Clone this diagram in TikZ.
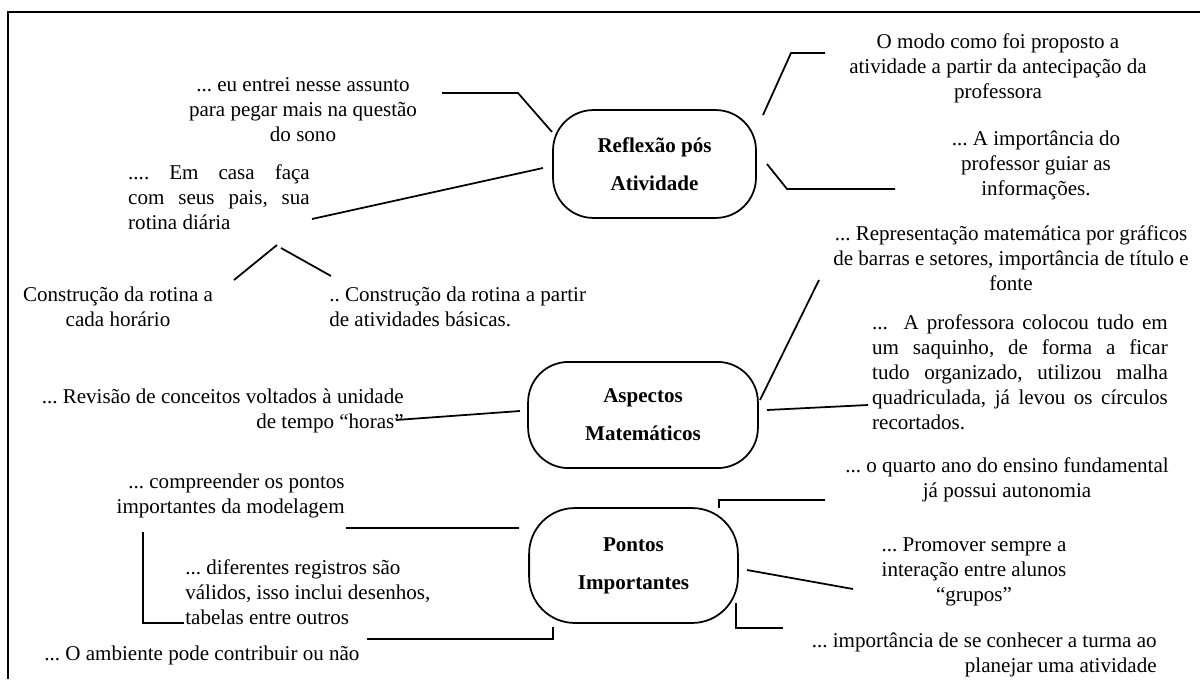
\documentclass[tikz,border=0pt]{standalone}
\usepackage{fontspec}
\setmainfont{Liberation Serif}
\begin{document}
\frenchspacing
\begin{tikzpicture}[x=0.57pt,y=-0.57pt,
		txt/.style={inner sep=0pt,font=\fontsize{12}{14.25}\selectfont\frenchspacing},
		topic/.style={draw,line width=1pt,rounded corners=23pt,inner sep=0pt,align=center,font=\fontsize{12}{21.5}\selectfont\bfseries},
		link/.style={line width=1pt}]
		\useasboundingbox (0,0) rectangle (1200,679);
		\draw[line width=1.5pt] (8,679) -- (8,12) -- (1200,12);
		\node[topic,minimum width=115.7pt,minimum height=61.5pt] (reflexao) at (654.5,164) {Reflexão pós\\Atividade};
		\node[topic,minimum width=131pt,minimum height=60.5pt] (aspectos) at (643,415) {Aspectos\\Matemáticos};
		\node[topic,rounded corners=26pt,minimum width=119pt,minimum height=65.5pt] (pontos) at (633.5,565.5) {Pontos\\Importantes};
		\node[txt,align=center] (sono) at (303,110) {... eu entrei nesse assunto\\para pegar mais na questão\\do sono};
		\node[txt,align=justify,text width=103.5pt] (casa) at (219,197) {.... Em casa faça\linebreak com seus pais, sua\linebreak rotina diária};
		\node[txt,align=center] (horario) at (118,307) {Construção da rotina a\\cada horário};
		\node[txt,align=left,anchor=west] (basicas) at (329,307) {.. Construção da rotina a partir\\de atividades básicas.};
		\node[txt,align=center] (modo) at (998,68) {O modo como foi proposto a\\atividade a partir da antecipação da\\professora};
		\node[txt,align=center] (guiar) at (1036,165) {... A importância do\\professor guiar as\\informações.};
		\node[txt,align=center] (graficos) at (1011,258) {... Representação matemática por gráficos\\de barras e setores, importância de título e\\fonte};
		\node[txt,align=justify,text width=168.5pt] (saquinho) at (1020,372) {...\ \ A professora colocou tudo em\linebreak um saquinho, de forma a ficar\linebreak tudo organizado, utilizou malha\linebreak quadriculada, já levou os círculos\linebreak recortados.};
		\node[txt,align=right,anchor=east] (horas) at (404,411) {... Revisão de conceitos voltados à unidade\\de tempo “horas”};
		\node[txt,align=center] (quarto) at (1007,480) {... o quarto ano do ensino fundamental\\já possui autonomia};
		\node[txt,align=right,anchor=east] (modelagem) at (345,496) {... compreender os pontos\\importantes da modelagem};
		\node[txt,align=left,anchor=west] (registros) at (185,592) {... diferentes registros são\\válidos, isso inclui desenhos,\\tabelas entre outros};
		\node[txt,anchor=west] (ambiente) at (44,655) {... O ambiente pode contribuir ou não};
		\node[txt,align=center] (grupos) at (974,572) {... Promover sempre a\\interação entre alunos\\“grupos”};
		\node[txt,align=right,anchor=east] (turma) at (1157,655) {... importância de se conhecer a turma ao\\planejar uma atividade};
		\coordinate (sonoA) at (442,93);
		\coordinate (sonoB) at (518,93);
		\coordinate (sonoC) at (552,132);
		\coordinate (casaA) at (312,219);
		\coordinate (casaB) at (543,168);
		\coordinate (tipL) at (234,280);
		\coordinate (topL) at (277,245);
		\coordinate (topR) at (281,248);
		\coordinate (tipR) at (331,276);
		\coordinate (modoA) at (763,115);
		\coordinate (modoB) at (791,53);
		\coordinate (modoC) at (825,53);
		\coordinate (guiarA) at (767,164);
		\coordinate (guiarB) at (787,189);
		\coordinate (guiarC) at (895,189);
		\coordinate (grafA) at (819,280);
		\coordinate (grafB) at (760,400);
		\coordinate (saqA) at (767,410);
		\coordinate (saqB) at (868,405);
		\coordinate (horasA) at (396,420);
		\coordinate (horasB) at (520,411);
		\coordinate (quartoA) at (719,508);
		\coordinate (quartoB) at (719,500);
		\coordinate (quartoC) at (825,500);
		\coordinate (gruposA) at (747,570);
		\coordinate (gruposB) at (853,589);
		\coordinate (turmaA) at (736,603);
		\coordinate (turmaB) at (736,628);
		\coordinate (turmaC) at (783,628);
		\coordinate (modA) at (346,528);
		\coordinate (modB) at (519,528);
		\coordinate (regA) at (143,532);
		\coordinate (regB) at (143,623);
		\coordinate (regC) at (184,623);
		\coordinate (ambA) at (367,639);
		\coordinate (ambB) at (553,639);
		\coordinate (ambC) at (553,627);
		\draw[link] (sonoA) -- (sonoB) -- (sonoC);
		\draw[link] (casaA) -- (casaB);
		\draw[link] (tipL) -- (topL);
		\draw[link] (topR) -- (tipR);
		\draw[link] (modoA) -- (modoB) -- (modoC);
		\draw[link] (guiarA) -- (guiarB) -- (guiarC);
		\draw[link] (grafA) -- (grafB);
		\draw[link] (saqA) -- (saqB);
		\draw[link] (horasA) -- (horasB);
		\draw[link] (quartoA) -- (quartoB) -- (quartoC);
		\draw[link] (gruposA) -- (gruposB);
		\draw[link] (turmaA) -- (turmaB) -- (turmaC);
		\draw[link] (modA) -- (modB);
		\draw[link] (regA) -- (regB) -- (regC);
		\draw[link] (ambA) -- (ambB) -- (ambC);
\end{tikzpicture}
\end{document}
